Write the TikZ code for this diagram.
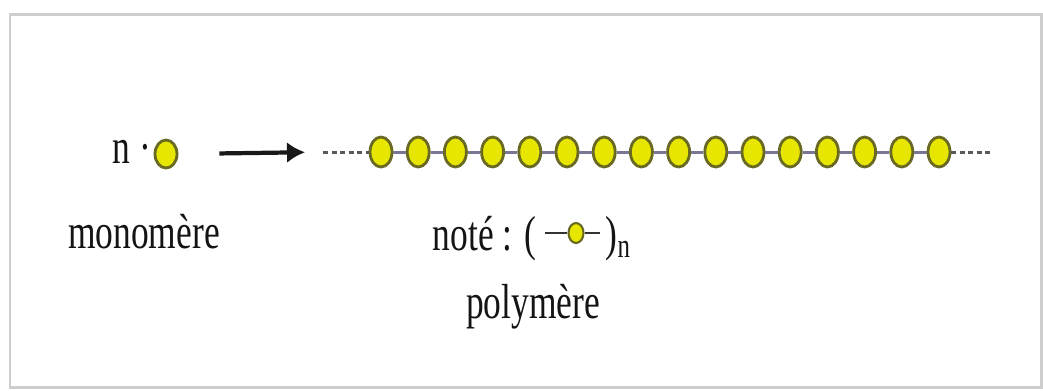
\documentclass[tikz,border=0pt]{standalone}
\usepackage{fontspec}
\setmainfont{Liberation Serif}
\usepackage{graphicx}
\usetikzlibrary{arrows.meta,shapes.geometric}
\definecolor{beadfill}{RGB}{230,230,0}
\definecolor{beaddraw}{RGB}{105,105,35}
\definecolor{bondcol}{RGB}{120,120,150}
\definecolor{framecol}{RGB}{205,205,205}
\newcommand{\narrowtxt}[1]{\scalebox{0.72}[1]{#1}}

\begin{document}
\begin{tikzpicture}[
    x=0.01cm, y=-0.01cm,
    font=\fontsize{14}{16}\selectfont,
    >=Latex,
    bead/.style={ellipse, draw=beaddraw, fill=beadfill, line width=0.8pt, minimum width=2.2mm, minimum height=3mm, inner sep=0pt},
    minibead/.style={bead, minimum width=1.5mm, minimum height=2mm, line width=0.6pt},
    bond/.style={draw=bondcol, line width=0.85pt},
    chaindash/.style={draw=black!65, line width=0.85pt, dash pattern=on 0.5mm off 0.35mm},
    lbl/.style={inner sep=0pt, text=black!92}
]
\useasboundingbox (0,0) rectangle (1043,390);
\draw[framecol, line width=0.85pt] (10,14) rectangle (1041,387);

% monomer
\node[lbl, anchor=base west] (ndot) at (112,163) {\narrowtxt{n ·}};
\node[bead, minimum height=2.8mm] (mono) at (166,154) {};
\node[lbl, anchor=base] (monolbl) at (144,248) {\narrowtxt{monomère}};

% chain
\coordinate (dashL) at (323,152);
\coordinate (dashR) at (992,152);
\foreach \i in {1,...,16}
    \node[bead] (b\i) at ({381+37.2*(\i-1)},152) {};
\foreach \i [count=\j from 2] in {1,...,15}
    \draw[bond] (b\i) -- (b\j);
\draw[chaindash] (dashL) -- (b1.west);
\draw[chaindash] (b16.east) -- (dashR);

\draw[->, line width=1.2pt, black!90, >={Latex[length=1.8mm, width=2.1mm]}, shorten <=4.1mm, shorten >=1.8mm] (mono.east) -- (dashL);

% notation
\node[lbl, anchor=base west] (note) at (432,250) {\narrowtxt{noté : (}};
\node[minibead] (mini) at (576,233) {};
\coordinate (miniL) at (545,233);
\coordinate (miniR) at (600,233);
\draw[black!80, line width=0.6pt] (miniL) -- (mini.west);
\draw[black!80, line width=0.6pt] (mini.east) -- (miniR);
\node[lbl, anchor=base west] (close) at (605,250) {\narrowtxt{)\textsubscript{n}}};
\node[lbl, anchor=base] (polylbl) at (533,318) {\narrowtxt{polymère}};
\end{tikzpicture}
\end{document}
